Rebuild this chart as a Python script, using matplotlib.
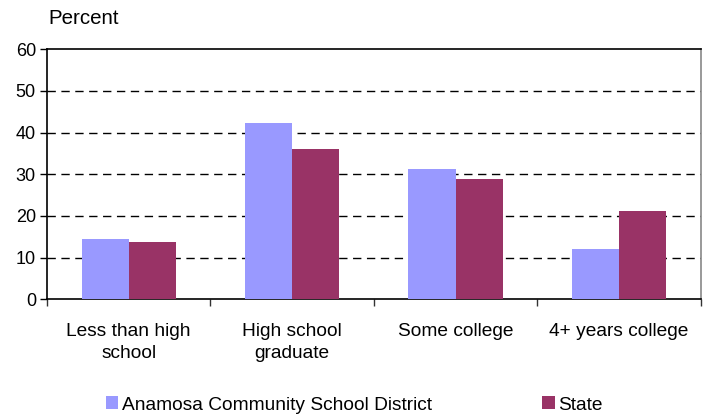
import numpy as np
import matplotlib
matplotlib.use("Agg")
import matplotlib.pyplot as plt

plt.rcParams['font.family'] = ['Liberation Sans', 'DejaVu Sans']

categorias = ["Less than high\nschool", "High school\ngraduate", "Some college", "4+ years college"]
distrito = [14.5, 42.3, 31.3, 12.1]
estado = [13.8, 36.1, 28.9, 21.2]
nome_distrito = "Anamosa Community School District"
nome_estado = "State"

fig = plt.figure(figsize=(7.1, 4.16), dpi=100)
ax = fig.add_axes([47 / 710, 1 - 299.3 / 416, 653.6 / 710, 250 / 416])

x = np.arange(len(categorias))
larg = 0.288
b1 = ax.bar(x - larg / 2, distrito, larg, color="#9999FF", label=nome_distrito, zorder=3)
b2 = ax.bar(x + larg / 2, estado, larg, color="#993366", label=nome_estado, zorder=3)

ax.set_xlim(-0.5, len(categorias) - 0.5)
ax.set_ylim(0, 60)
ax.set_yticks(range(0, 61, 10))
ax.tick_params(axis="y", labelsize=13, direction="out", length=5, width=1, pad=3)
ax.set_xticks(np.arange(-0.5, len(categorias), 1.0))
ax.set_xticklabels([])
ax.tick_params(axis="x", direction="out", length=5, width=1, colors="#333333")
ax.set_xticks(x, minor=True)
ax.set_xticklabels(categorias, minor=True, fontsize=13.8, linespacing=1.42)
ax.tick_params(axis="x", which="minor", length=0, pad=17)

for y in range(10, 60, 10):
    ax.axhline(y, color="black", linestyle=(0, (6, 4)), linewidth=1, zorder=1)

for lado in ["left", "bottom", "top"]:
    ax.spines[lado].set_color("black")
    ax.spines[lado].set_linewidth(1.2)
ax.spines["right"].set_color("#888888")
ax.spines["right"].set_linewidth(1.2)

fig.text(48 / 710, 1 - 18 / 416, "Percent", fontsize=14.8, va="center", ha="left")

fig.legend(handles=[b1, b2], loc="center left", bbox_to_anchor=(106 / 710, 1 - 405 / 416),
           ncol=2, frameon=False, fontsize=13.8, handlelength=0.65, handleheight=0.65,
           handletextpad=0.18, columnspacing=5.75, borderaxespad=0, borderpad=0)

fig.savefig("out.png", dpi=100)
plt.close(fig)
